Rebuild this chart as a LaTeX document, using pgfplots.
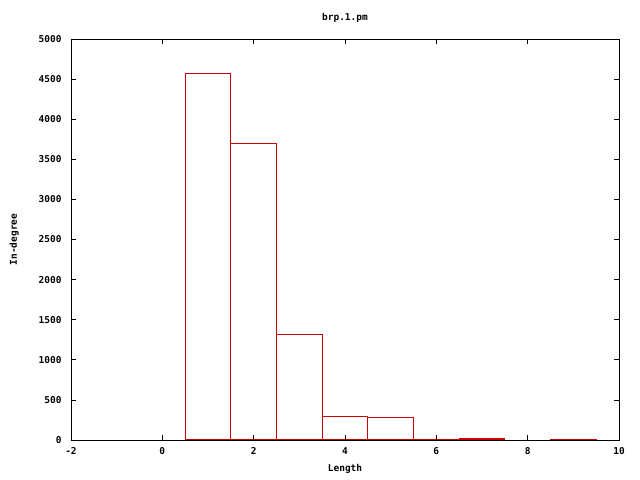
\documentclass[border=0pt]{standalone}
\usepackage{pgfplots}
\pgfplotsset{compat=1.18}
\usepackage{fontspec}
\setmainfont{DejaVu Sans Mono}[BoldFont={DejaVu Sans Mono Bold}]
\definecolor{gpred}{RGB}{204,0,0}
\begin{document}
\begin{tikzpicture}
\begin{axis}[
  scale only axis,
  axis on top,
  width=548bp, height=401bp,
  xmin=-2, xmax=10, ymin=0, ymax=5000,
  xtick={-2,0,2,4,6,8,10},
  ytick={0,500,1000,1500,2000,2500,3000,3500,4000,4500,5000},
  tick align=inside,
  major tick length=5bp,
  tick style={black, line width=0.7pt},
  axis line style={line width=0.7pt},
  /pgf/number format/assume math mode=true,
  /pgf/number format/1000 sep={},
  tick label style={font=\fontsize{9.5}{11}\selectfont\bfseries},
  label style={font=\fontsize{9.5}{11}\selectfont\bfseries},
  title style={font=\fontsize{9.5}{11}\selectfont\bfseries},
  yticklabel style={xshift=-6bp},
  xticklabel style={yshift=-4bp},
  title={brp.1.pm},
  title style={yshift=7bp},
  xlabel={Length},
  ylabel={In-degree},
  xlabel style={yshift=-3bp},
  ylabel style={yshift=13bp},
]
\addplot[ybar, bar width=1, bar shift=0pt, color=gpred, draw=gpred, fill=white, line width=1bp] coordinates {
(1,4570) (2,3700) (3,1310) (4,290) (5,280) (6,10) (7,22) (9,12)
};
\end{axis}
\path (current axis.south west) ++(-71bp,-40bp) coordinate (bl);
\path (current axis.north east) ++(21bp,39bp) coordinate (tr);
\useasboundingbox (bl) rectangle (tr);
\end{tikzpicture}
\end{document}
